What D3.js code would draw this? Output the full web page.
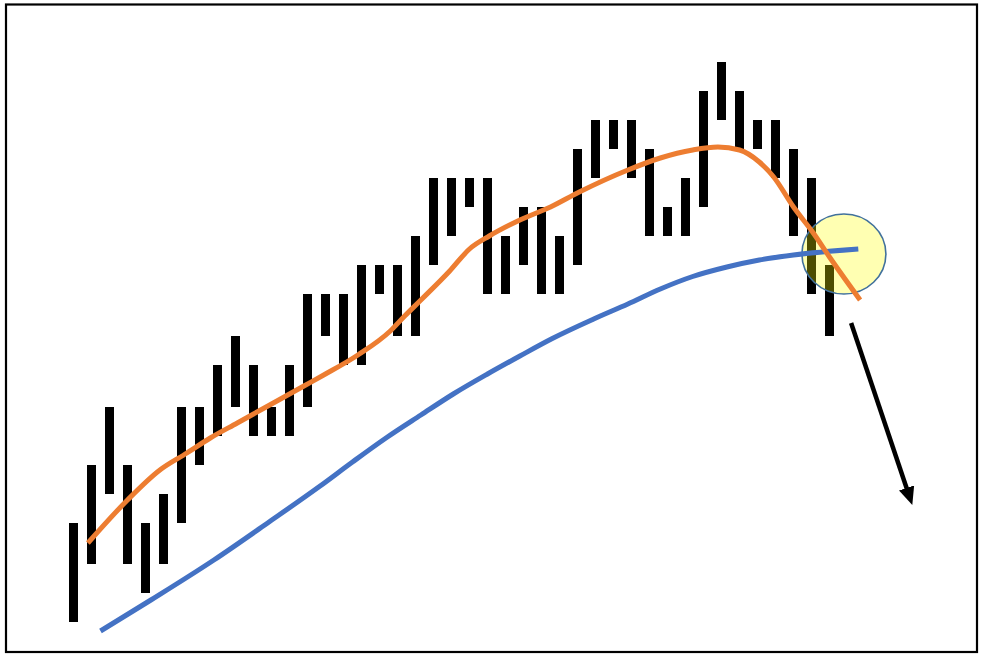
<!DOCTYPE html>
<html>
<head>
<meta charset="utf-8">
<script src="https://cdn.jsdelivr.net/npm/d3@7"></script>
<style>
  html, body { margin: 0; padding: 0; background: #fff; }
  svg { display: block; }
</style>
</head>
<body>
<svg width="983" height="659"></svg>
<script>
// bar highs / lows, one per period
const highs = [12.9, 18.7, 24.5, 18.7, 12.9, 15.8, 24.5, 24.5, 28.7, 31.6, 28.7, 24.5, 28.7, 35.8, 35.8,
  35.8, 38.7, 38.7, 38.7, 41.6, 47.4, 47.4, 47.4, 47.4, 41.6, 44.5, 44.5, 41.6, 50.3, 53.2,
  53.2, 53.2, 50.3, 44.5, 47.4, 56.1, 59.0, 56.1, 53.2, 53.2, 50.3, 47.4, 38.7];
const lows = [3.0, 8.8, 15.8, 8.8, 5.9, 8.8, 12.9, 18.7, 21.6, 24.5, 21.6, 21.6, 21.6, 24.5, 31.6,
  28.7, 28.7, 35.8, 31.6, 31.6, 38.7, 41.6, 44.5, 35.8, 35.8, 38.7, 35.8, 35.8, 38.7, 47.4,
  50.3, 47.4, 41.6, 41.6, 41.6, 44.5, 53.2, 50.3, 50.3, 47.4, 41.6, 35.8, 31.6];

// short moving average [period, value]
const fastMA = [[0.8, 10.9], [3, 15.2], [4.8, 18.2], [6.3, 19.9], [7.6, 21.4], [9.1, 22.9], [10.9, 24.7],
  [12.8, 26.6], [13.9, 27.7], [15.8, 29.7], [17.6, 32.1], [18.4, 33.6], [19.3, 35.2], [20.9, 38.1],
  [22, 40.3], [23.1, 41.6], [24.8, 43.2], [26.5, 44.5], [28.1, 46.0], [30.8, 48.2], [32.6, 49.4],
  [34.4, 50.2], [35.8, 50.5], [37, 50.2], [38.1, 49.0], [38.9, 47.5], [40, 44.5], [41.1, 41.9],
  [42, 39.5], [43.7, 35.2]];

// long moving average [period, value]
const slowMA = [[1.5, 2.1], [4.3, 5.2], [7.8, 9.2], [10.9, 13.05], [13.7, 16.6], [15.5, 19.0], [17.4, 21.45],
  [19.3, 23.7], [21.1, 25.8], [23, 27.8], [24.8, 29.6], [26.6, 31.35], [28.9, 33.3], [30.8, 34.8],
  [32.6, 36.3], [34.4, 37.55], [36.3, 38.5], [38.1, 39.2], [40, 39.7], [43.6, 40.3]];

// crossover highlight and the arrow after it
const crossPoint = [42.8, 39.8];
const arrowFrom = [43.2, 32.9];
const arrowTo = [46.6, 14.7];

const svg = d3.select("svg");

const x = d3.scaleLinear().domain([0, 42]).range([73.5, 829.5]);
const y = d3.scaleLinear().domain([0, 60]).range([652, 52]);

// frame
svg.append("rect")
  .attr("x", 6).attr("y", 4.5)
  .attr("width", 971).attr("height", 647.5)
  .attr("fill", "none")
  .attr("stroke", "#000")
  .attr("stroke-width", 2.2);

svg.append("g").selectAll("rect")
  .data(highs)
  .enter()
  .append("rect")
  .attr("x", (d, i) => x(i) - 4.5)
  .attr("y", d => y(d))
  .attr("width", 9)
  .attr("height", (d, i) => y(lows[i]) - y(d))
  .attr("fill", "#000");

svg.append("ellipse")
  .attr("cx", x(crossPoint[0]))
  .attr("cy", y(crossPoint[1]))
  .attr("rx", 42)
  .attr("ry", 40)
  .attr("fill", "#ffff00")
  .attr("fill-opacity", 0.3)
  .attr("stroke", "#41719c")
  .attr("stroke-width", 1.6);

const line = d3.line()
  .x(d => x(d[0]))
  .y(d => y(d[1]))
  .curve(d3.curveMonotoneX);

svg.append("path")
  .attr("d", line(slowMA))
  .attr("fill", "none")
  .attr("stroke", "#4472c4")
  .attr("stroke-width", 5);

svg.append("path")
  .attr("d", line(fastMA))
  .attr("fill", "none")
  .attr("stroke", "#ed7d31")
  .attr("stroke-width", 5);

// arrow
const x0 = x(arrowFrom[0]), y0 = y(arrowFrom[1]);
const x1 = x(arrowTo[0]), y1 = y(arrowTo[1]);
const len = Math.hypot(x1 - x0, y1 - y0);
const ux = (x1 - x0) / len, uy = (y1 - y0) / len;

svg.append("defs").append("marker")
  .attr("id", "head")
  .attr("markerUnits", "userSpaceOnUse")
  .attr("viewBox", "0 0 18 16")
  .attr("markerWidth", 18)
  .attr("markerHeight", 16)
  .attr("refX", 4)
  .attr("refY", 8)
  .attr("orient", "auto")
  .append("path")
  .attr("d", "M0,0 L18,8 L0,16 Z")
  .attr("fill", "#000");

svg.append("line")
  .attr("x1", x0).attr("y1", y0)
  .attr("x2", x1 - ux * 14).attr("y2", y1 - uy * 14)
  .attr("stroke", "#000")
  .attr("stroke-width", 4.5)
  .attr("marker-end", "url(#head)");
</script>
</body>
</html>
